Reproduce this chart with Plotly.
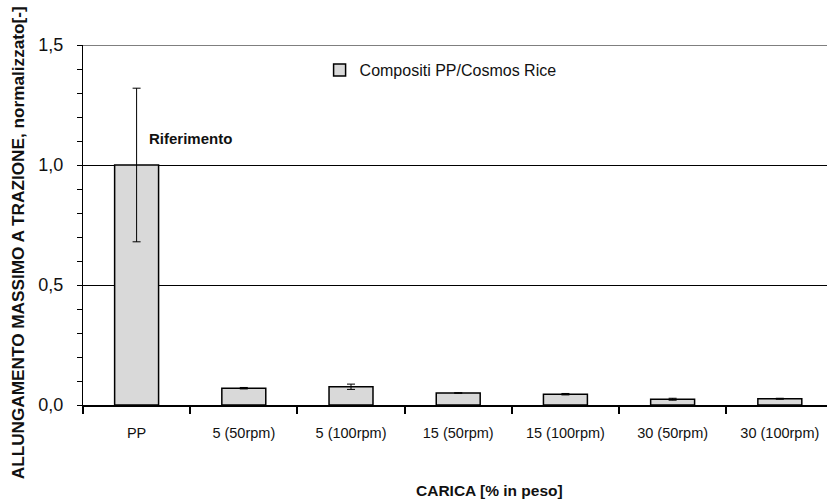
import plotly.graph_objects as go

# Tensile elongation at break, normalised to neat PP
categories = ["PP", "5 (50rpm)", "5 (100rpm)", "15 (50rpm)", "15 (100rpm)", "30 (50rpm)", "30 (100rpm)"]
elongation = [1.0, 0.070, 0.076, 0.050, 0.045, 0.024, 0.026]
elongation_err = [0.32, 0.003, 0.011, 0.001, 0.003, 0.004, 0.002]

series_name = "Compositi PP/Cosmos Rice"
y_title = "ALLUNGAMENTO MASSIMO A TRAZIONE, normalizzato[-]"
x_title = "CARICA [% in peso]"
ref_label = "Riferimento"
y_tickvals = [0.0, 0.5, 1.0, 1.5]
y_ticktext = ["0,0", "0,5", "1,0", "1,5"]

FONT = "Liberation Sans, Arial, sans-serif"
INK = "#111111"

fig = go.Figure()
fig.add_trace(go.Bar(
    x=categories,
    y=elongation,
    name=series_name,
    width=0.41,
    marker=dict(color="#d9d9d9", line=dict(color="#000000", width=1.5)),
    error_y=dict(type="data", array=elongation_err, visible=True,
                 color="#000000", thickness=1, width=4),
    showlegend=True,
))

fig.add_annotation(
    x=0.1, y=1.11, xref="x", yref="y",
    text="<b>" + ref_label + "</b>",
    showarrow=False, xanchor="left", yanchor="middle",
    font=dict(family=FONT, size=15, color=INK),
)

# axis titles placed as free annotations
fig.add_annotation(
    x=-0.087, y=0.45, xref="paper", yref="paper",
    text="<b>" + y_title + "</b>", textangle=-90,
    showarrow=False, xanchor="center", yanchor="middle",
    font=dict(family=FONT, size=17.2, color=INK),
)
fig.add_annotation(
    x=0.546, y=-0.238, xref="paper", yref="paper",
    text="<b>" + x_title + "</b>",
    showarrow=False, xanchor="center", yanchor="middle",
    font=dict(family=FONT, size=15.5, color=INK),
)

# upper frame line at the top of the value range
fig.add_shape(type="line", xref="paper", yref="y", x0=0, x1=1, y0=1.5, y1=1.5,
              line=dict(color="#000000", width=1))

fig.update_layout(
    width=827, height=503,
    margin=dict(l=83, r=0, t=45, b=98),
    paper_bgcolor="white", plot_bgcolor="white",
    font=dict(family=FONT, color=INK),
    bargap=0.59,
    showlegend=True,
    legend=dict(x=0.318, y=0.93, xanchor="left", yanchor="middle",
                bgcolor="rgba(0,0,0,0)", font=dict(size=16, family=FONT, color=INK),
                itemwidth=30),
)

fig.update_xaxes(
    range=[-0.5, 6.44],
    showline=True, linecolor="#000000", linewidth=2,
    ticks="outside", tickson="boundaries", ticklen=7, tickcolor="#000000", tickwidth=1.5,
    tickfont=dict(size=14.5, family=FONT, color=INK),
    ticklabelstandoff=14,
    showgrid=False,
)

fig.update_yaxes(
    range=[0, 1.5],
    tickvals=y_tickvals, ticktext=y_ticktext,
    showline=True, linecolor="#000000", linewidth=1,
    ticks="outside", ticklen=5, tickcolor="#000000",
    minor=dict(dtick=0.1, ticks="outside", ticklen=5, tickcolor="#000000", showgrid=False),
    tickfont=dict(size=18, family=FONT, color=INK),
    ticklabelstandoff=10,
    showgrid=True, gridcolor="#000000", gridwidth=1,
    zeroline=False,
)

fig.write_html("out.html")
